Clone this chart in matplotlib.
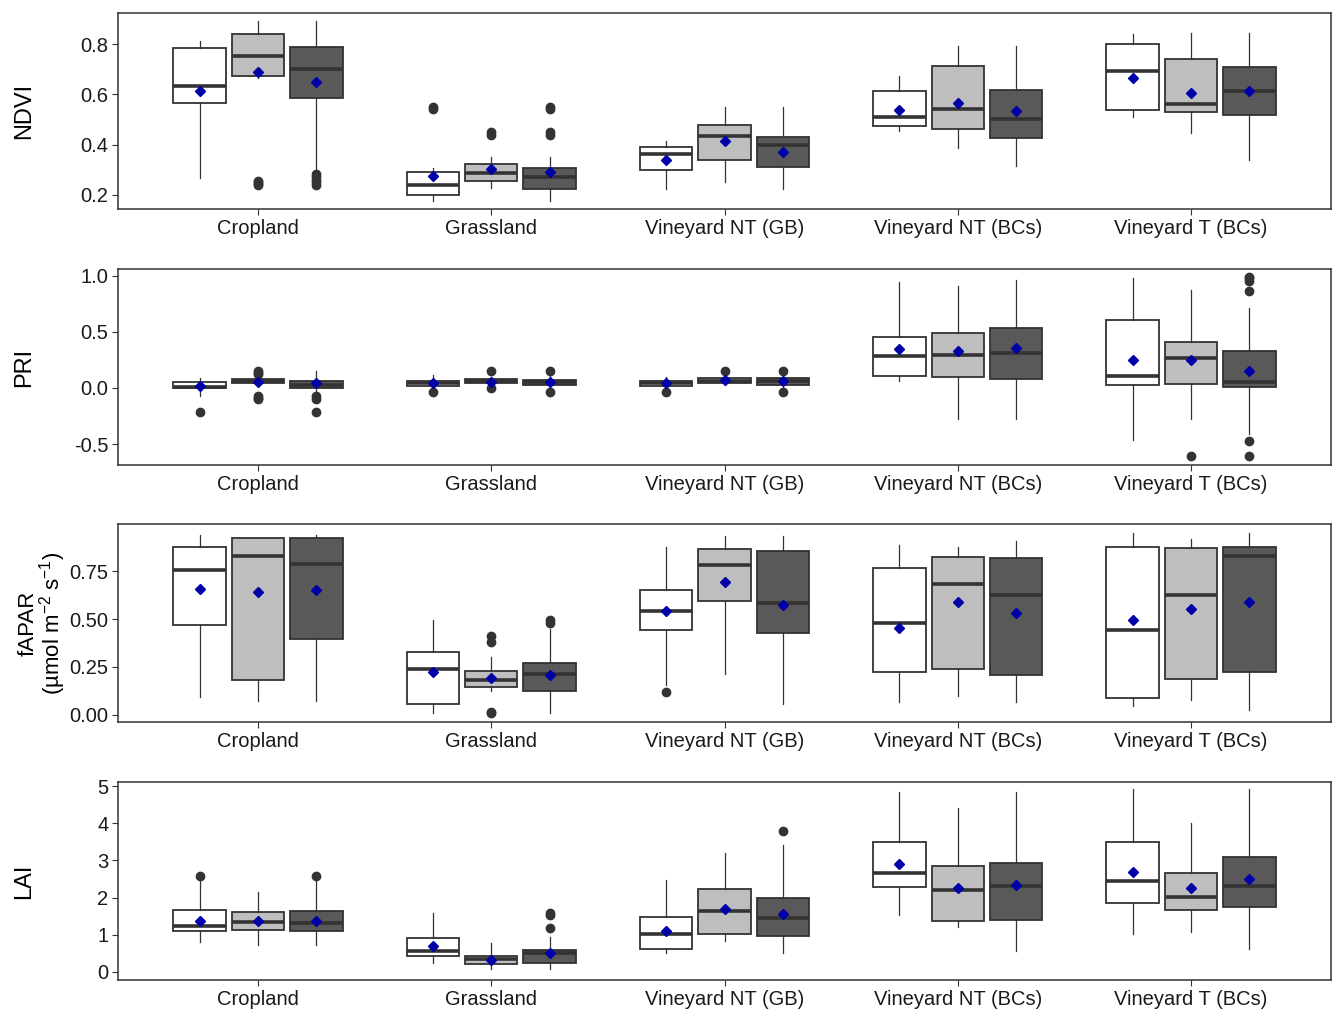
import matplotlib
matplotlib.use("Agg")
import matplotlib.pyplot as plt

plt.rcParams["font.family"] = ["Liberation Sans", "DejaVu Sans"]
plt.rcParams["mathtext.fontset"] = "custom"
plt.rcParams["mathtext.rm"] = "Liberation Sans"
plt.rcParams["mathtext.it"] = "Liberation Sans:italic"

SITES = ["Cropland", "Grassland", "Vineyard NT (GB)", "Vineyard NT (BCs)", "Vineyard T (BCs)"]
FILLS = ["#FFFFFF", "#BEBEBE", "#595959"]

# (whislo, q1, median, q3, whishi, mean) per box; three boxes per site
NDVI_STATS = [
    (0.269, 0.565, 0.633, 0.785, 0.813, 0.613), (0.665, 0.672, 0.752, 0.840, 0.893, 0.688), (0.292, 0.585, 0.703, 0.790, 0.893, 0.651),
    (0.176, 0.200, 0.241, 0.291, 0.309, 0.276), (0.227, 0.257, 0.289, 0.324, 0.352, 0.305), (0.176, 0.225, 0.273, 0.309, 0.352, 0.292),
    (0.225, 0.301, 0.364, 0.389, 0.416, 0.339), (0.252, 0.340, 0.433, 0.479, 0.549, 0.415), (0.225, 0.313, 0.397, 0.431, 0.549, 0.372),
    (0.456, 0.473, 0.509, 0.613, 0.673, 0.539), (0.387, 0.463, 0.541, 0.715, 0.792, 0.564), (0.316, 0.425, 0.504, 0.619, 0.792, 0.533),
    (0.509, 0.539, 0.695, 0.801, 0.840, 0.667), (0.445, 0.532, 0.563, 0.741, 0.845, 0.607), (0.339, 0.517, 0.612, 0.709, 0.845, 0.613),
]
NDVI_OUT = [
    [], [0.257, 0.250, 0.245, 0.238], [0.282, 0.270, 0.260, 0.250, 0.240],
    [0.550, 0.540], [0.450, 0.440], [0.550, 0.540, 0.450, 0.440],
    [], [], [],
    [], [], [],
    [], [], [],
]

PRI_STATS = [
    (-0.075, 0.000, 0.010, 0.050, 0.089, 0.015), (0.044, 0.044, 0.062, 0.080, 0.080, 0.050), (-0.060, 0.000, 0.030, 0.062, 0.147, 0.040),
    (-0.010, 0.020, 0.040, 0.059, 0.112, 0.040), (0.030, 0.044, 0.062, 0.080, 0.100, 0.050), (0.010, 0.030, 0.055, 0.074, 0.110, 0.050),
    (0.000, 0.020, 0.040, 0.059, 0.098, 0.044), (0.030, 0.044, 0.065, 0.085, 0.110, 0.068), (0.000, 0.030, 0.060, 0.088, 0.110, 0.065),
    (0.065, 0.107, 0.281, 0.453, 0.947, 0.346), (-0.275, 0.095, 0.293, 0.488, 0.905, 0.328), (-0.275, 0.083, 0.308, 0.538, 0.959, 0.358),
    (-0.467, 0.024, 0.104, 0.607, 0.982, 0.249), (-0.275, 0.036, 0.269, 0.405, 0.873, 0.246), (-0.414, 0.012, 0.056, 0.331, 0.716, 0.154),
]
PRI_OUT = [
    [-0.213], [0.153, 0.135, 0.124, -0.070, -0.090, -0.100], [-0.075, -0.095, -0.213],
    [-0.036], [0.147, 0.000], [0.147, -0.036],
    [-0.036], [0.147], [0.147, -0.036],
    [], [], [],
    [], [-0.607], [0.991, 0.975, 0.950, 0.867, -0.473, -0.607],
]

FAPAR_STATS = [
    (0.091, 0.470, 0.759, 0.876, 0.941, 0.659), (0.070, 0.180, 0.830, 0.925, 0.925, 0.643), (0.070, 0.397, 0.787, 0.925, 0.941, 0.650),
    (0.009, 0.056, 0.240, 0.329, 0.493, 0.224), (0.122, 0.145, 0.180, 0.231, 0.300, 0.192), (0.009, 0.122, 0.213, 0.273, 0.450, 0.210),
    (0.157, 0.441, 0.544, 0.650, 0.879, 0.544), (0.213, 0.594, 0.781, 0.864, 0.935, 0.692), (0.058, 0.428, 0.586, 0.855, 0.935, 0.573),
    (0.065, 0.224, 0.481, 0.766, 0.886, 0.455), (0.100, 0.238, 0.682, 0.827, 0.879, 0.591), (0.065, 0.206, 0.628, 0.820, 0.906, 0.531),
    (0.044, 0.089, 0.444, 0.876, 0.949, 0.497), (0.079, 0.187, 0.628, 0.869, 0.916, 0.552), (0.023, 0.224, 0.830, 0.876, 0.949, 0.589),
]
FAPAR_OUT = [
    [], [], [],
    [], [0.411, 0.381, 0.015, 0.007], [0.493, 0.482],
    [0.117], [], [],
    [], [], [],
    [], [], [],
]

LAI_STATS = [
    (0.80, 1.11, 1.23, 1.68, 2.50, 1.38), (0.73, 1.14, 1.35, 1.61, 2.15, 1.37), (0.73, 1.09, 1.32, 1.65, 2.50, 1.38),
    (0.25, 0.44, 0.57, 0.91, 1.58, 0.71), (0.07, 0.22, 0.34, 0.44, 0.77, 0.32), (0.07, 0.25, 0.50, 0.59, 0.95, 0.51),
    (0.50, 0.62, 1.01, 1.49, 2.48, 1.09), (0.82, 1.02, 1.63, 2.22, 3.20, 1.69), (0.50, 0.98, 1.44, 2.00, 3.42, 1.56),
    (1.52, 2.28, 2.67, 3.49, 4.84, 2.90), (1.21, 1.38, 2.21, 2.84, 4.40, 2.27), (0.57, 1.41, 2.31, 2.94, 4.84, 2.33),
    (1.02, 1.85, 2.46, 3.49, 4.91, 2.70), (1.08, 1.67, 2.02, 2.65, 4.01, 2.25), (0.61, 1.74, 2.31, 3.08, 4.91, 2.51),
]
LAI_OUT = [
    [2.59], [], [2.59],
    [], [], [1.58, 1.52, 1.17],
    [], [], [3.78],
    [], [], [],
    [], [], [],
]

PANELS = [
    ("NDVI", NDVI_STATS, NDVI_OUT, (0.144, 0.924), [0.2, 0.4, 0.6, 0.8], "{:.1f}"),
    ("PRI", PRI_STATS, PRI_OUT, (-0.686, 1.059), [-0.5, 0.0, 0.5, 1.0], "{:.1f}"),
    ("fAPAR\n(µmol m$^{-2}$ s$^{-1}$)", FAPAR_STATS, FAPAR_OUT, (-0.038, 0.997), [0.0, 0.25, 0.5, 0.75], "{:.2f}"),
    ("LAI", LAI_STATS, LAI_OUT, (-0.216, 5.11), [0, 1, 2, 3, 4, 5], "{:.0f}"),
]

# panel extents in pixels (top, bottom)
ROWS = [(13, 209), (269, 465), (524, 722), (782, 980)]
W, H = 1335, 1009
LEFT, RIGHT = 118, 1331
DARK = "#333333"

fig = plt.figure(figsize=(W / 100, H / 100), dpi=100)

for (label, stats, outliers, ylim, yticks, fmt), (top, bottom) in zip(PANELS, ROWS):
    ax = fig.add_axes([LEFT / W, 1 - bottom / H, (RIGHT - LEFT) / W, (bottom - top) / H])
    boxes = []
    positions = []
    colors = []
    for i, (s, out) in enumerate(zip(stats, outliers)):
        g, k = divmod(i, 3)
        boxes.append(dict(whislo=s[0], q1=s[1], med=s[2], q3=s[3], whishi=s[4], mean=s[5], fliers=out))
        positions.append(g + 1 + (k - 1) * 0.25)
        colors.append(FILLS[k])
    bp = ax.bxp(boxes, positions=positions, widths=0.225, patch_artist=True,
                showmeans=True, showcaps=False,
                boxprops=dict(edgecolor=DARK, linewidth=1.3),
                whiskerprops=dict(color=DARK, linewidth=0.9),
                medianprops=dict(color=DARK, linewidth=2.6),
                flierprops=dict(marker="o", markerfacecolor=DARK, markeredgecolor=DARK, markersize=6),
                meanprops=dict(marker="D", markerfacecolor="#0000A8", markeredgecolor="#0000A8", markersize=5.5))
    for patch, c in zip(bp["boxes"], colors):
        patch.set_facecolor(c)
    for m in bp["medians"]:
        m.set_solid_capstyle("butt")

    ax.set_xlim(0.4, 5.6)
    ax.set_ylim(*ylim)
    ax.set_xticks(range(1, 6))
    ax.set_xticklabels(SITES)
    ax.set_yticks(yticks)
    ax.set_yticklabels([fmt.format(v) for v in yticks])
    ax.tick_params(axis="both", length=4, width=0.8, color=DARK, labelsize=14.5,
                   labelcolor="#1a1a1a", pad=3)
    for sp in ax.spines.values():
        sp.set_color(DARK)
        sp.set_linewidth(1.1)
    two_lines = "\n" in label
    ax.set_ylabel(label, fontsize=16 if two_lines else 17, color="black",
                  ha="center", va="center", linespacing=0.9)
    ax.yaxis.set_label_coords(-0.062 if two_lines else -0.077, 0.5)

fig.savefig("out.png", dpi=100)
